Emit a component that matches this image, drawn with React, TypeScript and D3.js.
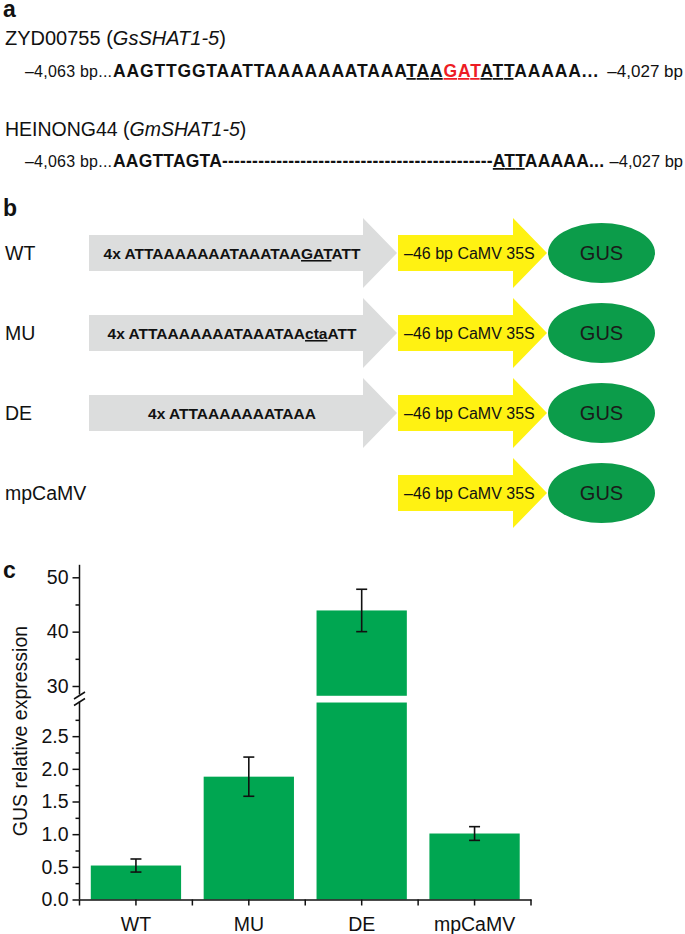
import { useEffect, useRef } from "react";
import * as d3 from "d3";

const FONT = "'Liberation Sans', Arial, Helvetica, sans-serif";

// panel c data
const categories = ["WT", "MU", "DE", "mpCaMV"];
const means = [0.52, 1.88, 43.9, 1.01];
const errors = [0.1, 0.3, 3.9, 0.105];
const lowTicks = [0, 0.5, 1, 1.5, 2, 2.5];
const lowMinorTicks = [0.25, 0.75, 1.25, 1.75, 2.25, 2.75];
const highTicks = [30, 40, 50];
const highMinorTicks = [35, 45];

// panel b constructs
const constructs = ["WT", "MU", "DE", "mpCaMV"];
const repeatText = [
  [["4x ATTAAAAAAATAAATAA", ""], ["GAT", "u"], ["ATT", ""]],
  [["4x ATTAAAAAAATAAATAA", ""], ["cta", "u"], ["ATT", ""]],
  [["4x ATTAAAAAAATAAA", ""]],
  null,
];

// panel a sequences
const seq1 = [
  ["AAGTTGGTAATTAAAAAAATAAA", ""],
  ["TAA", "u"],
  ["GAT", "r"],
  ["ATT", "u"],
  ["AAAAA...", ""],
];
const seq2 = [
  ["AAGTTAGTA" + "-".repeat(45), ""],
  ["ATT", "u"],
  ["AAAAA...", ""],
];

const GRAY = "#dcdddd";
const YELLOW = "#fff212";
const GREEN = "#0c9c4a";
const BAR = "#00a651";
const RED = "#ed1c24";

const seqSpan = (parts: string[][]) =>
  parts.map(([t, s], i) => (
    <tspan
      key={i}
      fill={s === "r" ? RED : "#111"}
      textDecoration={s ? "underline" : undefined}
    >
      {t}
    </tspan>
  ));

export default function App() {
  const ref = useRef<SVGGElement>(null);

  const rowY = d3.scalePoint<string>().domain(constructs).range([253, 493]);

  useEffect(() => {
    document.body.style.margin = "0";
    const g = d3.select(ref.current);
    g.selectAll("*").remove();

    const x = d3
      .scaleBand<string>()
      .domain(categories)
      .range([79.5, 531])
      .paddingInner(0.2)
      .paddingOuter(0.1);
    const yLow = d3.scaleLinear().domain([0, 3]).range([899.5, 703.5]);
    const yHigh = d3.scaleLinear().domain([30, 50]).range([686, 577.3]);
    const lowTop = 3.015;
    const highBottom = 28.2;

    // bars (split at the axis break)
    categories.forEach((c, i) => {
      const m = means[i];
      const x0 = x(c)!;
      const w = x.bandwidth();
      if (m <= 3) {
        g.append("rect")
          .attr("x", x0)
          .attr("width", w)
          .attr("y", yLow(m))
          .attr("height", yLow(0) - yLow(m))
          .attr("fill", BAR);
      } else {
        g.append("rect")
          .attr("x", x0)
          .attr("width", w)
          .attr("y", yLow(lowTop))
          .attr("height", yLow(0) - yLow(lowTop))
          .attr("fill", BAR);
        g.append("rect")
          .attr("x", x0)
          .attr("width", w)
          .attr("y", yHigh(m))
          .attr("height", yHigh(highBottom) - yHigh(m))
          .attr("fill", BAR);
      }
      const y = m <= 3 ? yLow : yHigh;
      const cx = x0 + w / 2;
      const e = errors[i];
      const eb = g.append("g").attr("stroke", "#111").attr("stroke-width", 1.6);
      eb.append("line").attr("x1", cx).attr("x2", cx).attr("y1", y(m - e)).attr("y2", y(m + e));
      [m - e, m + e].forEach((v) =>
        eb.append("line").attr("x1", cx - 5.5).attr("x2", cx + 5.5).attr("y1", y(v)).attr("y2", y(v))
      );
    });

    // y axes
    const styleAxis = (sel: any) => {
      sel.select(".domain").remove();
      sel.selectAll("line").attr("stroke", "#111").attr("stroke-width", 1.5);
      sel.selectAll("text").attr("font-size", 19.5).attr("font-family", FONT).attr("fill", "#111");
    };
    g.append("g")
      .attr("transform", "translate(79.5,0)")
      .call(d3.axisLeft(yLow).tickValues(lowTicks).tickFormat(d3.format(".1f")).tickSize(7).tickPadding(4))
      .call(styleAxis);
    g.append("g")
      .attr("transform", "translate(79.5,0)")
      .call(d3.axisLeft(yLow).tickValues(lowMinorTicks).tickFormat(() => "").tickSize(4))
      .call(styleAxis);
    g.append("g")
      .attr("transform", "translate(79.5,0)")
      .call(d3.axisLeft(yHigh).tickValues(highTicks).tickFormat(d3.format("d")).tickSize(7).tickPadding(4))
      .call(styleAxis);
    g.append("g")
      .attr("transform", "translate(79.5,0)")
      .call(d3.axisLeft(yHigh).tickValues(highMinorTicks).tickFormat(() => "").tickSize(4))
      .call(styleAxis);

    const axisLines = g.append("g").attr("stroke", "#111").attr("stroke-width", 1.5);
    axisLines.append("line").attr("x1", 79.5).attr("x2", 79.5).attr("y1", yLow(0)).attr("y2", 701.5);
    axisLines.append("line").attr("x1", 79.5).attr("x2", 79.5).attr("y1", 694.5).attr("y2", yHigh(52.3));
    // break marks
    axisLines.append("line").attr("x1", 74).attr("x2", 85).attr("y1", 699).attr("y2", 692);
    axisLines.append("line").attr("x1", 74).attr("x2", 85).attr("y1", 705.5).attr("y2", 698.5);

    // x axis
    const xg = g
      .append("g")
      .attr("transform", `translate(0,${yLow(0)})`)
      .call(d3.axisBottom(x).tickSize(6).tickPadding(12).tickSizeOuter(0));
    xg.select(".domain").attr("stroke", "#111").attr("stroke-width", 1.5);
    xg.selectAll("line").attr("stroke", "#111").attr("stroke-width", 1.5);
    xg.selectAll("text").attr("font-size", 19.5).attr("font-family", FONT).attr("fill", "#111");
    const step = x.step();
    d3.range(5).forEach((k) => {
      const bx = 79.5 + k * step;
      xg.append("line").attr("x1", bx).attr("x2", bx).attr("y1", 0).attr("y2", 6)
        .attr("stroke", "#111").attr("stroke-width", 1.5);
    });

    // y label
    g.append("text")
      .attr("transform", "translate(27,731) rotate(-90)")
      .attr("text-anchor", "middle")
      .attr("font-size", 19.5)
      .attr("font-family", FONT)
      .attr("fill", "#111")
      .text("GUS relative expression");
  }, []);

  return (
    <svg width={685} height={934} style={{ display: "block", fontFamily: FONT }}>
      <rect width={685} height={934} fill="#fff" />

      {/* panel a */}
      <text x={3} y={17} fontSize={23} fontWeight="bold" fill="#111">a</text>
      <text x={5} y={45} fontSize={20} fill="#111">
        ZYD00755 (<tspan fontStyle="italic">GsSHAT1-5</tspan>)
      </text>
      <text x={25} y={77} fontSize={16} fill="#111" textLength={87} lengthAdjust="spacing">–4,063 bp...</text>
      <text x={113} y={77} fontSize={17.5} fontWeight="bold" textLength={485} lengthAdjust="spacing">
        {seqSpan(seq1)}
      </text>
      <text x={683} y={77} fontSize={17} fill="#111" textAnchor="end">–4,027 bp</text>

      <text x={5} y={136} fontSize={19.5} fill="#111">
        HEINONG44 (<tspan fontStyle="italic">GmSHAT1-5</tspan>)
      </text>
      <text x={25} y={167} fontSize={16} fill="#111" textLength={87} lengthAdjust="spacing">–4,063 bp...</text>
      <text x={113} y={167} fontSize={17.5} fontWeight="bold" textLength={491} lengthAdjust="spacing">
        {seqSpan(seq2)}
      </text>
      <text x={683} y={167} fontSize={16.5} fill="#111" textAnchor="end">–4,027 bp</text>

      {/* panel b */}
      <text x={3} y={216} fontSize={23} fontWeight="bold" fill="#111">b</text>
      {constructs.map((c, i) => {
        const cy = rowY(c)!;
        const rep = repeatText[i];
        return (
          <g key={c}>
            <text x={5} y={cy + 7} fontSize={19.5} fill="#111">{c}</text>
            {rep && (
              <path
                d={`M89,${cy - 18}H363V${cy - 35}L397,${cy}L363,${cy + 35}V${cy + 18}H89Z`}
                fill={GRAY}
              />
            )}
            {rep && (
              <text x={232} y={cy + 6} fontSize={15.5} fontWeight="bold" textAnchor="middle" fill="#111">
                {rep.map(([t, s], k) => (
                  <tspan key={k} textDecoration={s ? "underline" : undefined}>{t}</tspan>
                ))}
              </text>
            )}
            <path
              d={`M398,${cy - 18}H513V${cy - 35}L547,${cy}L513,${cy + 35}V${cy + 18}H398Z`}
              fill={YELLOW}
            />
            <text x={404} y={cy + 6} fontSize={16} fill="#111">–46 bp CaMV 35S</text>
            <ellipse cx={601.5} cy={cy} rx={53.5} ry={30} fill={GREEN} />
            <text x={601.5} y={cy + 7} fontSize={20} textAnchor="middle" fill="#1a1a1a">GUS</text>
          </g>
        );
      })}

      {/* panel c */}
      <text x={3} y={578} fontSize={23} fontWeight="bold" fill="#111">c</text>
      <g ref={ref} />
    </svg>
  );
}
